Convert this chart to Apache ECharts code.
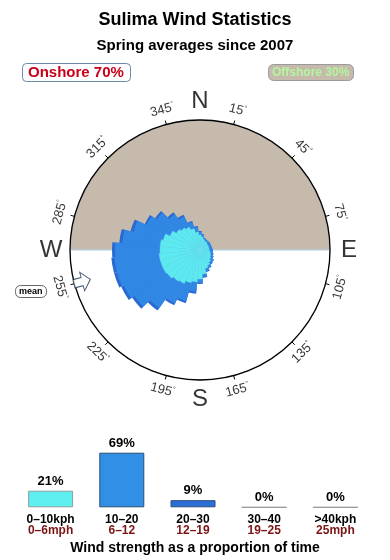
<!DOCTYPE html>
<html>
<head>
<meta charset="utf-8">
<script src="https://cdn.jsdelivr.net/npm/echarts@6/dist/echarts.min.js"></script>
<style>
html,body{margin:0;padding:0;background:#fff;}
#chart{width:390px;height:560px;}
</style>
</head>
<body>
<div id="chart"></div>
<script>
// ---------- data ----------
const roseDirs = ['0','10','20','30','40','50','60','70','80','90','100','110','120','130','140','150','160','170',
                  '180','190','200','210','220','230','240','250','260','270','280','290','300','310','320','330','340','350'];
// cumulative radius of each speed band per direction (radial units, circle edge = 130)
const roseCalm  = [15,13,11,10,10, 9, 9, 9, 9, 9,10,11,12,13,15,17,19,24,29,32,34,37,38,40,41,41,41,40,40,38,33,29,27,25,22,18];
const roseMid   = [18,16,13,12,12,12,12,12,12,13,13,14,15,17,18,20,22,27,33,42,53,59,71,80,84,86,86,85,78,69,59,53,44,37,29,23];
const roseTotal = [19,16,13,12,12,12,12,12,12,13,13,14,15,17,18,20,23,28,34,44,55,61,74,83,87,89,89,88,81,72,61,55,46,39,30,24];
const shoreSides = ['Offshore', 'Onshore'];
const tickAngles = [15,45,75,105,135,165,195,225,255,285,315,345];
const compassNames = ['N','E','S','W'];
const compassAngles = [0,90,180,270];
const meanDirection = 255;
const speedKph = ['0\u201310kph','10\u201320','20\u201330','30\u201340','>40kph'];
const speedMph = ['0\u20136mph','6\u201312','12\u201319','19\u201325','25mph'];
const speedShare = [21,69,9,0,0];
const onshoreShare = 70, offshoreShare = 30;

// ---------- styles ----------
const FONT = '"Liberation Sans", Arial, Helvetica, sans-serif';
const RMAX = 130;
const CENTER = [200, 250];
const barFill = ['#5ef0f0','#3190e6','#2c6ed8','#cccccc','#cccccc'];
const barBorder = ['#8f9d9d','#2b4d78','#2b4d78','#999999','#999999'];
const shoreFill = ['#c5baab', '#ffffff'];

function labelRot(a){
  if (a < 90) return -a;
  if (a > 270) return 360 - a;
  return 180 - a;
}

const chart = echarts.init(document.getElementById('chart'), null, {renderer:'canvas'});

const option = {
  backgroundColor: '#ffffff',
  animation: false,
  textStyle: {fontFamily: FONT},
  title: [
    {text: 'Sulima Wind Statistics', left: 'center', top: 6,
     textStyle: {fontFamily: FONT, fontSize: 18, fontWeight: 'bold', color: '#000'}},
    {text: 'Spring averages since 2007', left: 'center', top: 33,
     textStyle: {fontFamily: FONT, fontSize: 15, fontWeight: 'bold', color: '#000'}},
    {text: 'Onshore ' + onshoreShare + '%', left: 22, top: 63, padding: [1, 7, 1, 6],
     backgroundColor: '#ffffff', borderColor: '#6d87a8', borderWidth: 1, borderRadius: 4,
     textStyle: {fontFamily: FONT, fontSize: 15, fontWeight: 'bold', color: '#c8001a', lineHeight: 17}},
    {text: 'Offshore ' + offshoreShare + '%', left: 268, top: 64, padding: [2, 4, 2, 4],
     backgroundColor: '#c5baab', borderColor: '#9a9a9a', borderWidth: 1, borderRadius: 5,
     textStyle: {fontFamily: FONT, fontSize: 12, fontWeight: 'bold', color: '#b4f5a0', lineHeight: 13}},
    {text: 'mean', left: 15, top: 285, padding: [1, 4, 1, 4],
     backgroundColor: '#ffffff', borderColor: '#666', borderWidth: 1, borderRadius: 5,
     textStyle: {fontFamily: FONT, fontSize: 9, fontWeight: 'bold', color: '#000', lineHeight: 11}},
    {text: 'Wind strength as a proportion of time', left: 'center', top: 536,
     textStyle: {fontFamily: FONT, fontSize: 14, fontWeight: 'bold', color: '#000'}}
  ],
  polar: [
    {center: CENTER, radius: RMAX},
    {center: CENTER, radius: RMAX},
    {center: CENTER, radius: RMAX}
  ],
  angleAxis: [
    {polarIndex: 0, type: 'category', data: shoreSides, startAngle: 180, clockwise: true, show: false},
    {polarIndex: 1, type: 'category', data: roseDirs, startAngle: 95, clockwise: true, show: false},
    {polarIndex: 2, type: 'value', min: 15, max: 375, interval: 30, startAngle: 75, clockwise: true, z: 10,
     axisLine: {show: true, lineStyle: {color: '#000', width: 1.3}},
     axisTick: {show: true, length: 4, lineStyle: {color: '#000', width: 1}},
     axisLabel: {show: false}, splitLine: {show: false}}
  ],
  radiusAxis: [
    {polarIndex: 0, type: 'value', min: 0, max: RMAX, show: false},
    {polarIndex: 1, type: 'value', min: 0, max: RMAX, show: false},
    {polarIndex: 2, type: 'value', min: 0, max: RMAX, show: false}
  ],
  grid: {left: 15, right: 19, top: 444, bottom: 52.7},
  xAxis: {
    type: 'category', data: speedKph,
    axisLine: {show: false}, axisTick: {show: false},
    axisLabel: {
      interval: 0, margin: 7,
      formatter: (v, i) => '{k|' + v + '}\n{m|' + speedMph[i] + '}',
      rich: {
        k: {fontFamily: FONT, fontSize: 12, fontWeight: 'bold', color: '#000', lineHeight: 11},
        m: {fontFamily: FONT, fontSize: 12, fontWeight: 'bold', color: '#7b1414', lineHeight: 11}
      }
    }
  },
  yAxis: {type: 'value', min: 0, max: 80, show: false},
  series: [
    {
      type: 'bar', coordinateSystem: 'polar', polarIndex: 0, z: 1, silent: true,
      barCategoryGap: '0%',
      data: shoreSides.map((s, i) => ({value: RMAX, itemStyle: {color: shoreFill[i]}})),
      itemStyle: {borderColor: '#b0cde0', borderWidth: 1}
    },
    {
      name: '20-30kph', type: 'bar', coordinateSystem: 'polar', polarIndex: 1, z: 3, silent: true,
      barCategoryGap: '0%', barGap: '-100%',
      data: roseTotal, itemStyle: {color: '#2a68d2'}
    },
    {
      name: '10-20kph', type: 'bar', coordinateSystem: 'polar', polarIndex: 1, z: 3, silent: true,
      barCategoryGap: '0%', barGap: '-100%',
      data: roseMid, itemStyle: {color: '#3088e4'}
    },
    {
      name: '0-10kph', type: 'bar', coordinateSystem: 'polar', polarIndex: 1, z: 3, silent: true,
      barCategoryGap: '0%', barGap: '-100%',
      data: roseCalm, itemStyle: {color: '#5ce9ef', borderColor: 'rgba(110,225,235,0.8)', borderWidth: 0.5}
    },
    {
      type: 'scatter', coordinateSystem: 'polar', polarIndex: 2, z: 11, silent: true, clip: false,
      symbolSize: 0,
      data: tickAngles.map(a => ({value: [145, a], label: {rotate: labelRot(a)}})),
      label: {
        show: true, position: 'inside',
        formatter: p => '{n|' + p.value[1] + '}{d|\u00b0}',
        rich: {
          n: {fontFamily: FONT, fontSize: 13, color: '#000'},
          d: {fontFamily: FONT, fontSize: 7, color: '#000', verticalAlign: 'top', padding: [0, 0, 7, 0]}
        }
      }
    },
    {
      type: 'scatter', coordinateSystem: 'polar', polarIndex: 2, z: 11, silent: true, clip: false,
      symbolSize: 0,
      data: compassAngles.map((a, i) => ({value: [149, a], name: compassNames[i]})),
      label: {show: true, position: 'inside', formatter: p => p.name,
              fontFamily: FONT, fontSize: 24, color: '#000'}
    },
    {
      type: 'scatter', coordinateSystem: 'polar', polarIndex: 2, z: 12, silent: true, clip: false,
      symbol: 'path://M0,-10 L9,0 L4,0 L4,10 L-4,10 L-4,0 L-9,0 Z',
      symbolSize: [19, 17],
      symbolRotate: -((meanDirection + 180) % 360),
      data: [[122, meanDirection]],
      itemStyle: {color: '#ffffff', borderColor: '#1c3550', borderWidth: 1}
    },
    {
      type: 'bar', xAxisIndex: 0, yAxisIndex: 0, barWidth: 45, silent: true,
      data: speedShare.map((v, i) => ({value: v, itemStyle: {color: barFill[i], borderColor: barBorder[i], borderWidth: 1}})),
      label: {show: true, position: 'top', distance: 3, formatter: '{c}%',
              fontFamily: FONT, fontSize: 13, fontWeight: 'bold', color: '#000'}
    }
  ]
};
chart.setOption(option);
</script>
</body>
</html>
